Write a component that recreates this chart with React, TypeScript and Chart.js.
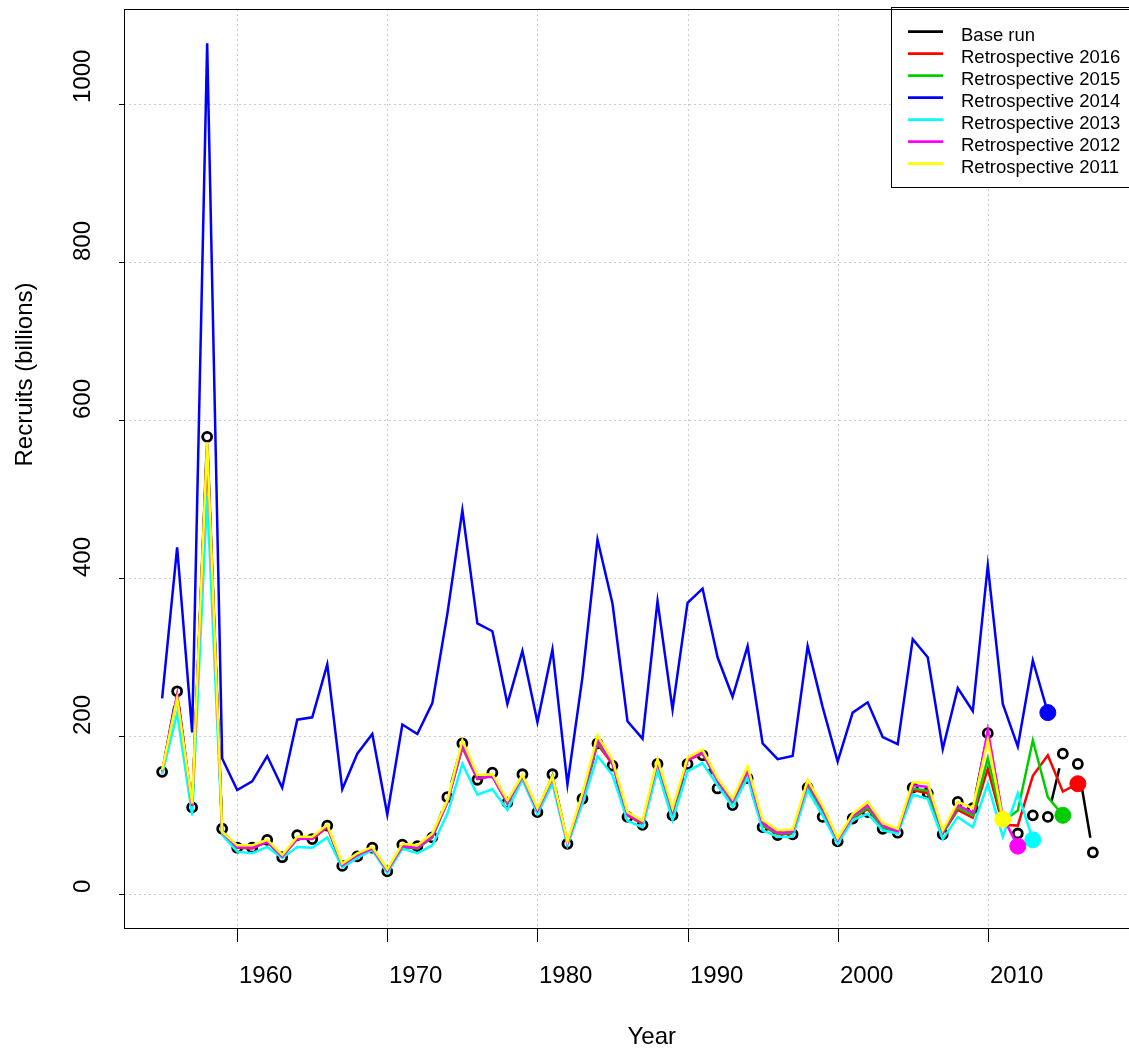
import React, { useEffect, useRef } from "react";
import { Chart, registerables } from "chart.js";

Chart.register(...registerables);

// ---------------- data ----------------
const years = [
  1955, 1956, 1957, 1958, 1959, 1960, 1961, 1962, 1963, 1964,
  1965, 1966, 1967, 1968, 1969, 1970, 1971, 1972, 1973, 1974,
  1975, 1976, 1977, 1978, 1979, 1980, 1981, 1982, 1983, 1984,
  1985, 1986, 1987, 1988, 1989, 1990, 1991, 1992, 1993, 1994,
  1995, 1996, 1997, 1998, 1999, 2000, 2001, 2002, 2003, 2004,
  2005, 2006, 2007, 2008, 2009, 2010, 2011, 2012, 2013, 2014,
  2015, 2016, 2017,
];

const baseRun = [
  155, 257, 110, 579, 83, 59, 59, 69, 47, 75,
  70, 87, 36, 48, 59, 29, 63, 61, 72, 123,
  191, 145, 154, 116, 152, 104, 152, 64, 121, 191,
  163, 98, 88, 165, 100, 165, 176, 134, 113, 147,
  85, 75, 76, 135, 98, 67, 96, 104, 83, 78,
  135, 128, 76, 117, 109, 204, 97, 77, 100, 98,
  178, 165, 53,
];

const retro2016 = [
  155, 252, 111, 570, 80, 59, 58, 67, 47, 71,
  70, 85, 37, 49, 57, 30, 60, 58, 72, 118,
  186, 146, 150, 115, 149, 104, 150, 65, 122, 190,
  165, 100, 89, 165, 103, 170, 178, 144, 116, 154,
  87, 76, 77, 137, 102, 67, 96, 108, 84, 79,
  132, 128, 77, 107, 97, 159, 88, 87, 150, 176,
  130, 140,
];

const retro2015 = [
  155, 250, 112, 568, 80, 60, 59, 67, 48, 71,
  71, 86, 37, 50, 58, 30, 61, 58, 73, 117,
  187, 147, 150, 115, 150, 105, 150, 66, 123, 192,
  167, 101, 90, 166, 104, 171, 179, 145, 117, 156,
  88, 77, 78, 138, 104, 68, 97, 110, 85, 80,
  134, 131, 78, 110, 100, 172, 92, 106, 195, 123,
  100,
];

const retro2014 = [
  248, 439, 205, 1077, 172, 132, 143, 175, 135, 221,
  224, 291, 133, 178, 203, 101, 215, 203, 242, 355,
  486, 343, 333, 241, 308, 218, 310, 139, 275, 449,
  368, 219, 197, 371, 234, 369, 387, 300, 250, 314,
  191, 171, 175, 314, 237, 168, 230, 243, 199, 190,
  323, 300, 184, 261, 232, 416, 241, 187, 296, 230,
];

const retro2013 = [
  152, 229, 100, 505, 75, 54, 52, 60, 46, 60,
  59, 72, 34, 46, 56, 27, 58, 52, 62, 102,
  165, 126, 133, 107, 145, 102, 140, 62, 115, 175,
  151, 93, 85, 157, 94, 156, 166, 138, 111, 148,
  81, 73, 73, 132, 100, 64, 94, 102, 81, 77,
  126, 121, 70, 98, 85, 140, 73, 128, 69,
];

const retro2012 = [
  156, 252, 112, 570, 78, 60, 59, 66, 48, 70,
  71, 86, 37, 50, 58, 30, 61, 59, 74, 116,
  188, 147, 149, 116, 149, 106, 147, 65, 124, 195,
  166, 101, 91, 168, 106, 170, 180, 144, 118, 157,
  90, 78, 79, 141, 108, 69, 99, 113, 87, 80,
  138, 136, 79, 113, 103, 208, 98, 61,
];

const retro2011 = [
  157, 248, 115, 572, 79, 62, 62, 69, 50, 73,
  73, 88, 39, 52, 60, 32, 64, 62, 77, 119,
  195, 151, 152, 119, 151, 109, 149, 67, 128, 201,
  170, 104, 93, 171, 109, 173, 183, 147, 121, 162,
  94, 81, 82, 145, 112, 71, 102, 117, 90, 83,
  142, 141, 81, 117, 109, 195, 95,
];

const seriesNames = [
  "Base run",
  "Retrospective 2016",
  "Retrospective 2015",
  "Retrospective 2014",
  "Retrospective 2013",
  "Retrospective 2012",
  "Retrospective 2011",
];
const seriesColors = ["#000000", "#FF0000", "#00CD00", "#0000FF", "#00FFFF", "#FF00FF", "#FFFF00"];
const retroSeries = [retro2016, retro2015, retro2014, retro2013, retro2012, retro2011];

const xTicks = [1960, 1970, 1980, 1990, 2000, 2010];
const yTicks = [0, 200, 400, 600, 800, 1000];
const xTitle = "Year";
const yTitle = "Recruits (billions)";

// ---------------- layout ----------------
const FONT = "'Liberation Sans', Arial, Helvetica, sans-serif";
const CANVAS_W = 1140;
const CANVAS_H = 1051;
const AREA_LEFT = 124;
const AREA_TOP = 7.3;
const AREA_RIGHT = 1132.3;
const AREA_BOTTOM = 928;

const rPlot = {
  id: "rPlot",
  beforeDatasetsDraw(chart: any) {
    const { ctx, chartArea: a } = chart;
    const xs = chart.scales.x;
    const ys = chart.scales.y;
    ctx.save();
    // dotted grid
    ctx.strokeStyle = "#cccccc";
    ctx.lineWidth = 1;
    ctx.setLineDash([2, 3]);
    for (const t of xTicks) {
      const px = Math.round(xs.getPixelForValue(t)) + 0.5;
      ctx.beginPath();
      ctx.moveTo(px, a.top);
      ctx.lineTo(px, a.bottom);
      ctx.stroke();
    }
    for (const t of yTicks) {
      const py = Math.round(ys.getPixelForValue(t)) + 0.5;
      ctx.beginPath();
      ctx.moveTo(a.left, py);
      ctx.lineTo(a.right, py);
      ctx.stroke();
    }
    ctx.setLineDash([]);
    // base run line, drawn with gaps round the points
    ctx.strokeStyle = "#000000";
    ctx.lineWidth = 2.5;
    ctx.lineCap = "butt";
    const gap = 15;
    for (let i = 0; i < years.length - 1; i++) {
      const x0 = xs.getPixelForValue(years[i]);
      const y0 = ys.getPixelForValue(baseRun[i]);
      const x1 = xs.getPixelForValue(years[i + 1]);
      const y1 = ys.getPixelForValue(baseRun[i + 1]);
      const dx = x1 - x0;
      const dy = y1 - y0;
      const len = Math.hypot(dx, dy);
      if (len <= 2 * gap) continue;
      const ux = dx / len;
      const uy = dy / len;
      ctx.beginPath();
      ctx.moveTo(x0 + ux * gap, y0 + uy * gap);
      ctx.lineTo(x1 - ux * gap, y1 - uy * gap);
      ctx.stroke();
    }
    ctx.restore();
  },
  afterDatasetsDraw(chart: any) {
    const { ctx, chartArea: a } = chart;
    const xs = chart.scales.x;
    const ys = chart.scales.y;
    ctx.save();

    // legend
    const lx = 891.5;
    const ly = 7.5;
    const lr = 1132;
    const lb = 187.5;
    ctx.fillStyle = "#ffffff";
    ctx.fillRect(lx, ly, lr - lx, lb - ly);
    ctx.strokeStyle = "#000000";
    ctx.lineWidth = 1;
    ctx.strokeRect(lx, ly, lr - lx, lb - ly);
    ctx.font = `18.5px ${FONT}`;
    ctx.textAlign = "left";
    ctx.textBaseline = "alphabetic";
    for (let i = 0; i < seriesNames.length; i++) {
      const rowY = 31.7 + 22 * i;
      ctx.strokeStyle = seriesColors[i];
      ctx.lineWidth = 2.7;
      ctx.beginPath();
      ctx.moveTo(908, rowY);
      ctx.lineTo(943, rowY);
      ctx.stroke();
      ctx.fillStyle = "#000000";
      ctx.fillText(seriesNames[i], 961, rowY + 9);
    }

    // box
    ctx.strokeStyle = "#000000";
    ctx.lineWidth = 1;
    ctx.strokeRect(Math.round(a.left) + 0.5, Math.round(a.top) + 0.5, a.right - a.left, Math.round(a.bottom) - Math.round(a.top));

    // x axis ticks and labels
    ctx.font = `24px ${FONT}`;
    ctx.fillStyle = "#000000";
    ctx.textAlign = "left";
    ctx.textBaseline = "alphabetic";
    for (const t of xTicks) {
      const px = Math.round(xs.getPixelForValue(t)) + 0.5;
      ctx.beginPath();
      ctx.moveTo(px, a.bottom);
      ctx.lineTo(px, a.bottom + 14);
      ctx.stroke();
      ctx.fillText(String(t), px + 1.5, 983);
    }
    // y axis ticks and labels
    for (const t of yTicks) {
      const py = Math.round(ys.getPixelForValue(t)) + 0.5;
      ctx.beginPath();
      ctx.moveTo(a.left - 5, py);
      ctx.lineTo(a.left, py);
      ctx.stroke();
      ctx.save();
      ctx.translate(90, py - 1.5);
      ctx.rotate(-Math.PI / 2);
      ctx.fillText(String(t), 0, 0);
      ctx.restore();
    }
    // titles
    ctx.fillText(xTitle, (a.left + a.right) / 2, 1044);
    ctx.save();
    ctx.translate(31.7, (a.top + a.bottom) / 2 - 2);
    ctx.rotate(-Math.PI / 2);
    ctx.fillText(yTitle, 0, 0);
    ctx.restore();

    ctx.restore();
  },
};

export default function App() {
  const canvasRef = useRef<HTMLCanvasElement | null>(null);

  useEffect(() => {
    const canvas = canvasRef.current;
    if (!canvas) return;

    const toPoints = (vals: number[]) => vals.map((v, i) => ({ x: years[i], y: v }));

    const datasets: any[] = [
      {
        label: seriesNames[0],
        data: toPoints(baseRun),
        showLine: false,
        borderColor: seriesColors[0],
        backgroundColor: "rgba(0,0,0,0)",
        pointRadius: 4.5,
        pointBorderWidth: 2.8,
        pointBorderColor: seriesColors[0],
        pointBackgroundColor: "rgba(0,0,0,0)",
        order: 7,
      },
    ];
    retroSeries.forEach((vals, k) => {
      const color = seriesColors[k + 1];
      const last = vals.length - 1;
      datasets.push({
        label: seriesNames[k + 1],
        data: toPoints(vals),
        showLine: true,
        borderColor: color,
        backgroundColor: color,
        borderWidth: 2.5,
        tension: 0,
        pointRadius: (c: any) => (c.dataIndex === last ? 8 : 0),
        pointBorderWidth: 1,
        pointBorderColor: color,
        pointBackgroundColor: color,
        order: 6 - k,
      });
    });

    const chart = new Chart(canvas, {
      type: "line",
      data: { datasets },
      options: {
        responsive: false,
        maintainAspectRatio: false,
        devicePixelRatio: 1,
        animation: false,
        events: [],
        layout: {
          padding: { left: 0, top: AREA_TOP, right: CANVAS_W - AREA_RIGHT, bottom: 0 },
        },
        plugins: {
          legend: { display: false },
          tooltip: { enabled: false },
        },
        scales: {
          x: {
            type: "linear",
            min: 1952.46,
            max: 2019.54,
            grid: { display: false },
            border: { display: false },
            ticks: { display: false },
            afterFit: (s: any) => {
              s.height = CANVAS_H - AREA_BOTTOM;
            },
          },
          y: {
            type: "linear",
            min: -42.6,
            max: 1120.5,
            grid: { display: false },
            border: { display: false },
            ticks: { display: false },
            afterFit: (s: any) => {
              s.width = AREA_LEFT;
            },
          },
        },
      },
      plugins: [rPlot],
    });

    return () => chart.destroy();
  }, []);

  return (
    <div
      style={{
        position: "fixed",
        left: 0,
        top: 0,
        width: 1129,
        height: 1051,
        overflow: "hidden",
        background: "#ffffff",
      }}
    >
      <canvas
        ref={canvasRef}
        width={CANVAS_W}
        height={CANVAS_H}
        style={{ display: "block", width: CANVAS_W, height: CANVAS_H }}
      />
    </div>
  );
}
